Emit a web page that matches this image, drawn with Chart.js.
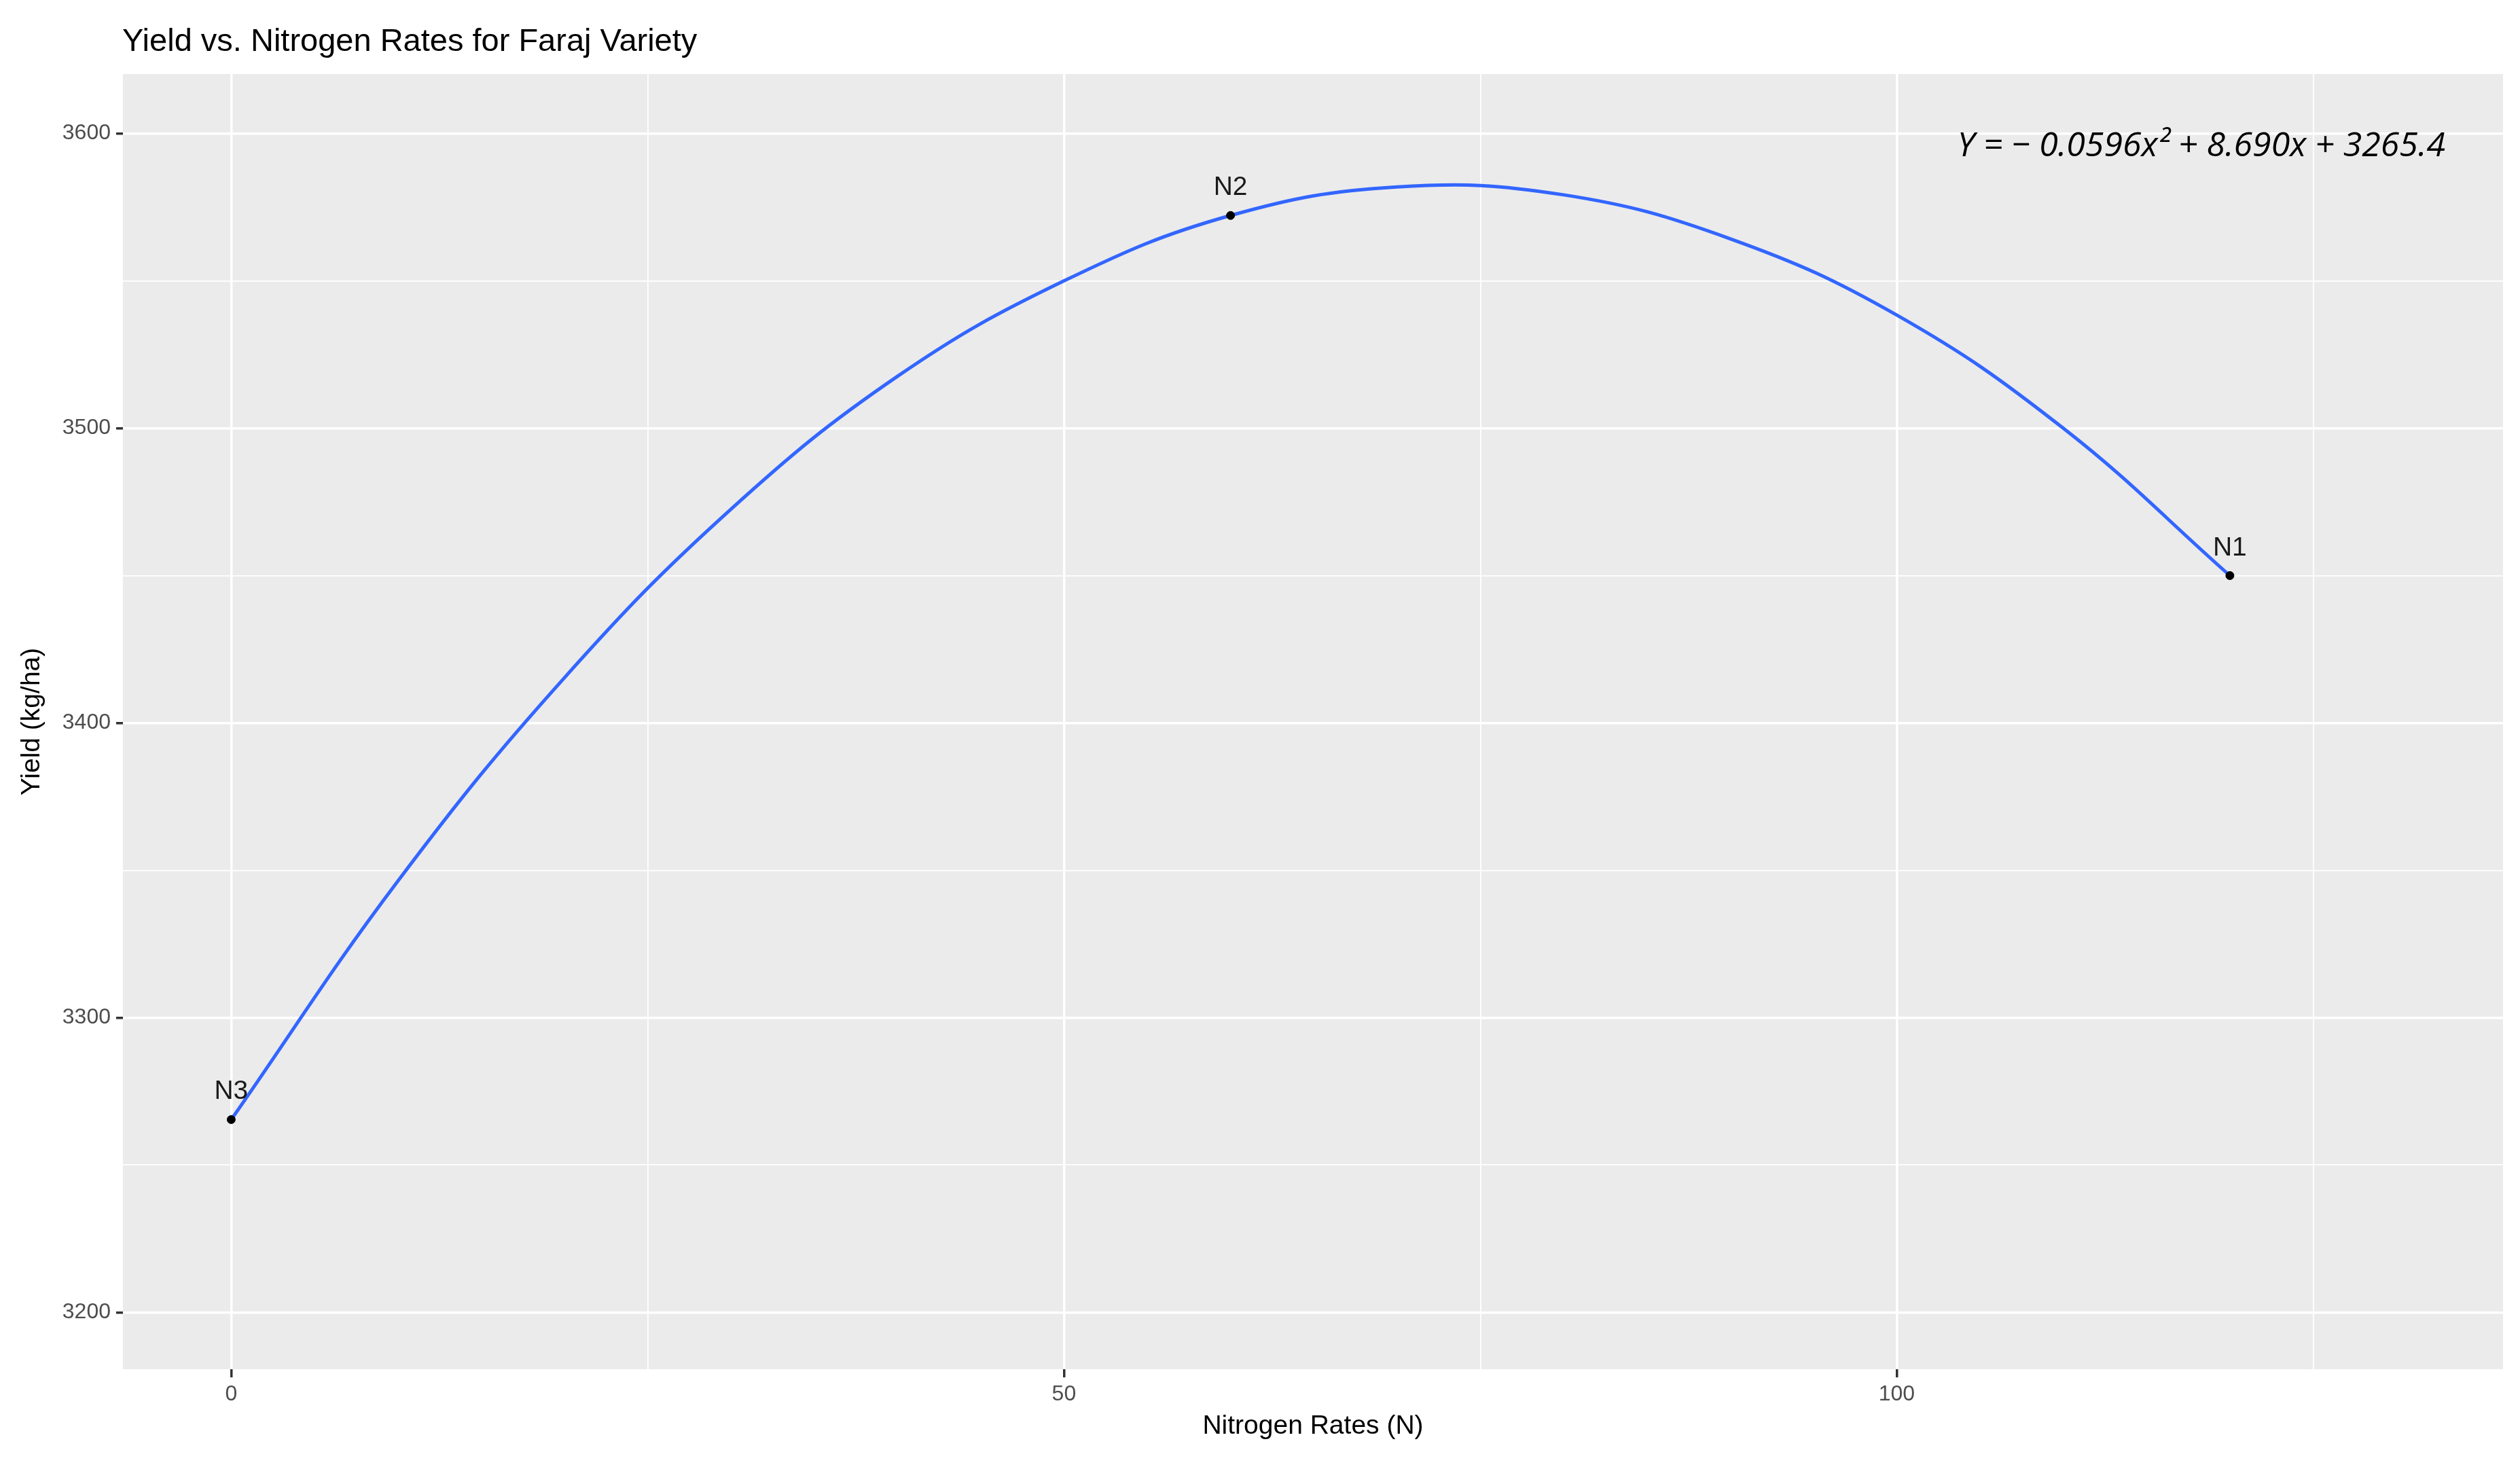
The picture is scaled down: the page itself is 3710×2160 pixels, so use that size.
<!DOCTYPE html>
<html><head><meta charset="utf-8">
<script src="https://cdn.jsdelivr.net/npm/chart.js@4"></script>
<style>html,body{margin:0;padding:0;background:#fff}canvas{display:block}</style>
</head><body>
<div style="width:3710px;height:2160px"><canvas id="c"></canvas></div>
<script>
const pointLabels = ['N3','N2','N1'];
const pointRates = [0, 60, 120];
const pointYields = [3265.4, 3572.2, 3450.0];
const curveRates = [0,10,20,30,40,50,60,70,80,90,100,110,120];
const curveYields = [3265.4,3346.3,3415.3,3472.5,3517.6,3550.0,3572.2,3581.9,3579.2,3564.3,3538.4,3500.0,3450.0];
const xTicks = [0,50,100];
const yTicks = [3200,3300,3400,3500,3600];
const titleText = 'Yield vs. Nitrogen Rates for Faraj Variety';
const equationText = 'Y = − 0.0596x² + 8.690x + 3265.4';

const FONT = '"Liberation Sans", Arial, sans-serif';
const decor = {
  id:'decor',
  beforeDraw(ch){
    const {ctx, chartArea:a} = ch;
    ctx.save(); ctx.fillStyle='#EBEBEB';
    ctx.fillRect(a.left,a.top,a.right-a.left,a.bottom-a.top); ctx.restore();
  },
  afterDatasetsDraw(ch){
    const {ctx, scales:{x,y}} = ch;
    ctx.save();
    ctx.fillStyle='#000'; ctx.font='47px '+FONT; ctx.textBaseline='middle'; ctx.textAlign='left';
    ctx.fillText(titleText,180,62);
    ctx.font='39px '+FONT; ctx.textAlign='center'; ctx.textBaseline='alphabetic';
    ctx.fillStyle='#1a1a1a';
    pointLabels.forEach((l,i)=>{
      ctx.fillText(l, x.getPixelForValue(pointRates[i]), y.getPixelForValue(pointYields[i])-30);
    });
    ctx.font='italic 50px "Open Sans", sans-serif'; ctx.textAlign='right'; ctx.textBaseline='middle';
    ctx.fillStyle='#000';
    ctx.fillText(equationText, 3600, 216);
    ctx.restore();
  }
};
new Chart(document.getElementById('c'), {
  type:'scatter',
  data:{datasets:[
    {data:curveRates.map((r,i)=>({x:r,y:curveYields[i]})), showLine:true, borderColor:'#3366FF', borderWidth:5, pointRadius:0, tension:0.4, order:2},
    {data:pointRates.map((r,i)=>({x:r,y:pointYields[i]})), backgroundColor:'#000', borderColor:'#000', pointRadius:6, order:1}
  ]},
  options:{
    responsive:true, maintainAspectRatio:false, animation:false,
    layout:{padding:{top:109,right:25,left:24,bottom:36}},
    plugins:{legend:{display:false},tooltip:{enabled:false}},
    scales:{
      x:{type:'linear', min:-6.5, max:136.4,
        afterBuildTicks(s){ s.ticks=[0,25,50,75,100,125].map(v=>({value:v})); },
        afterFit(s){ s.height=108; },
        ticks:{font:{family:FONT,size:32}, color:'#4d4d4d', padding:6,
          callback:v=>xTicks.includes(v)?String(v):''},
        grid:{color:'#fff', lineWidth:c=>xTicks.includes(c.tick&&c.tick.value)?3.5:1.8,
          tickColor:c=>xTicks.includes(c.tick&&c.tick.value)?'#333':'rgba(0,0,0,0)', tickLength:12, drawTicks:true},
        border:{display:false},
        title:{display:true,text:'Nitrogen Rates (N)',font:{family:FONT,size:39},color:'#000',padding:{top:4,bottom:0}}
      },
      y:{type:'linear', min:3180.7, max:3620.2,
        afterBuildTicks(s){ s.ticks=[3200,3250,3300,3350,3400,3450,3500,3550,3600].map(v=>({value:v})); },
        afterFit(s){ s.width=157; },
        ticks:{font:{family:FONT,size:32}, color:'#4d4d4d', padding:8,
          callback:v=>yTicks.includes(v)?String(v):''},
        grid:{color:'#fff', lineWidth:c=>yTicks.includes(c.tick&&c.tick.value)?3.5:1.8,
          tickColor:c=>yTicks.includes(c.tick&&c.tick.value)?'#333':'rgba(0,0,0,0)', tickLength:10},
        border:{display:false},
        title:{display:true,text:'Yield (kg/ha)',font:{family:FONT,size:39},color:'#000',padding:{top:0,bottom:6}}
      }
    }
  },
  plugins:[decor]
});
</script>
</body></html>
